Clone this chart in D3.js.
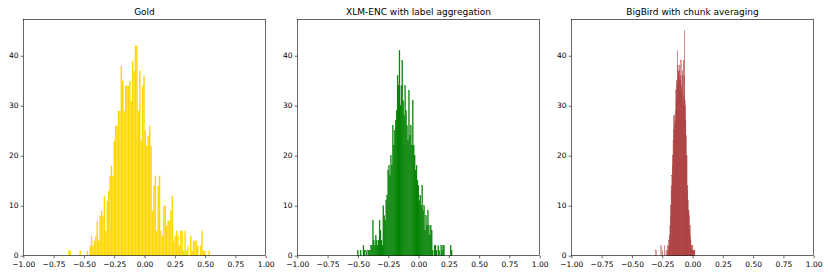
<!DOCTYPE html>
<html>
<head>
<meta charset="utf-8">
<script src="https://cdn.jsdelivr.net/npm/d3@7"></script>
<style>
  html, body { margin: 0; padding: 0; background: #fff; }
  svg { display: block; }
  text { font-family: "DejaVu Sans", sans-serif; fill: #000; }
</style>
</head>
<body>
<svg id="chart" width="830" height="277"></svg>
<script>
// ---------------- data ----------------
const panelTitles = ["Gold", "XLM-ENC with label aggregation", "BigBird with chunk averaging"];
const xTicks = [-1.0, -0.75, -0.5, -0.25, 0.0, 0.25, 0.5, 0.75, 1.0];
const yTicks = [0, 10, 20, 30, 40];

// histogram ranges (first bin left edge, last bin right edge); 100 bins each
const goldRange = [-0.629, 0.539];
const xlmRange = [-0.505, 0.277];
const bigbirdRange = [-0.303, 0.020];

const goldCounts = [
  1, 1, 0, 0, 0, 0, 0, 0, 1, 0,
  0, 0, 0, 1, 0, 2, 4, 2, 3, 4,
  7, 3, 8, 9, 8, 12, 5, 11, 13, 16,
  18, 16, 23, 26, 26, 29, 29, 38, 35, 29,
  34, 34, 34, 35, 31, 39, 37, 42, 42, 29,
  37, 23, 34, 36, 25, 22, 24, 26, 22, 9,
  14, 16, 5, 14, 16, 5, 4, 10, 10, 6,
  7, 7, 9, 12, 3, 4, 5, 4, 2, 5,
  5, 1, 5, 1, 2, 0, 4, 1, 3, 3,
  3, 2, 0, 2, 5, 1, 1, 0, 0, 1
];

const xlmCounts = [
  1, 0, 0, 1, 0, 0, 2, 1, 0, 1,
  0, 1, 1, 1, 2, 2, 7, 3, 2, 4,
  3, 2, 3, 7, 5, 3, 2, 10, 8, 7,
  11, 12, 17, 18, 16, 20, 18, 26, 22, 25,
  27, 29, 36, 34, 41, 30, 34, 39, 31, 28,
  34, 29, 26, 23, 33, 24, 26, 22, 31, 22,
  20, 17, 18, 15, 14, 11, 12, 10, 14, 9,
  10, 5, 8, 6, 9, 6, 4, 6, 5, 1,
  0, 2, 2, 1, 0, 2, 1, 0, 2, 1,
  2, 2, 0, 0, 0, 0, 0, 0, 2, 1
];

const bigbirdCounts = [
  1, 0, 0, 0, 0, 0, 0, 0, 0, 0,
  0, 0, 0, 2, 0, 0, 0, 1, 0, 0,
  0, 0, 2, 0, 0, 0, 1, 0, 0, 2,
  1, 0, 2, 3, 2, 4, 6, 8, 10, 14,
  13, 16, 18, 20, 23, 28, 25, 26, 28, 27,
  29, 33, 31, 35, 34, 41, 38, 37, 36, 37,
  35, 38, 36, 35, 39, 34, 33, 36, 37, 30,
  32, 39, 36, 45, 31, 30, 27, 24, 20, 20,
  13, 14, 11, 9, 9, 8, 5, 6, 4, 3,
  2, 2, 1, 1, 2, 1, 0, 1, 1, 1
];

const panelCounts = [goldCounts, xlmCounts, bigbirdCounts];
const panelRanges = [goldRange, xlmRange, bigbirdRange];
const panelColors = ["#ffd700", "#008000", "#aa3a3a"];
const panelStroke = [0, 0.3, 0.3];

// ---------------- layout ----------------
const svg = d3.select("#chart");
const axLefts = [23.3, 297.3, 571.3];
const axWidth = 242.4;
const axTop = 19.5, axBottom = 255.7;
const yMax = 47.25;

panelTitles.forEach((title, p) => {
  const x = d3.scaleLinear().domain([-1, 1]).range([axLefts[p], axLefts[p] + axWidth]);
  const y = d3.scaleLinear().domain([0, yMax]).range([axBottom, axTop]);
  const g = svg.append("g");

  const counts = panelCounts[p];
  const [lo, hi] = panelRanges[p];
  const n = counts.length;
  const bins = counts.map((c, i) => ({ x0: lo + (hi - lo) * i / n, x1: lo + (hi - lo) * (i + 1) / n, c }));

  const bars = g.append("g").selectAll("rect").data(bins.filter(b => b.c > 0)).join("rect")
    .attr("x", d => x(d.x0))
    .attr("width", d => x(d.x1) - x(d.x0))
    .attr("y", d => y(d.c))
    .attr("height", d => y(0) - y(d.c))
    .attr("fill", panelColors[p]);
  if (panelStroke[p] > 0) {
    bars.attr("stroke", panelColors[p]).attr("stroke-width", panelStroke[p]);
  }

  // axes
  const xAxis = d3.axisBottom(x).tickValues(xTicks).tickFormat(d3.format(".2f")).tickSize(2.6).tickPadding(3.2);
  const yAxis = d3.axisLeft(y).tickValues(yTicks).tickFormat(d3.format("d")).tickSize(2.6).tickPadding(2.2);

  const gx = g.append("g").attr("transform", `translate(0,${axBottom})`).call(xAxis);
  const gy = g.append("g").attr("transform", `translate(${axLefts[p]},0)`).call(yAxis);
  [gx, gy].forEach(a => {
    a.select(".domain").remove();
    a.selectAll(".tick line").attr("stroke", "#000").attr("stroke-width", 0.6);
    a.selectAll(".tick text").attr("font-size", "7.5px").attr("font-family", "DejaVu Sans, sans-serif").attr("fill", "#000");
  });
  gy.selectAll(".tick text").attr("dy", "0.25em");

  // frame (spines)
  g.append("rect")
    .attr("x", axLefts[p]).attr("y", axTop)
    .attr("width", axWidth).attr("height", axBottom - axTop)
    .attr("fill", "none").attr("stroke", "#000").attr("stroke-width", 0.6);

  // title
  g.append("text")
    .attr("x", axLefts[p] + axWidth / 2).attr("y", 14.8)
    .attr("text-anchor", "middle")
    .attr("font-size", "9px")
    .text(title);
});
</script>
</body>
</html>
